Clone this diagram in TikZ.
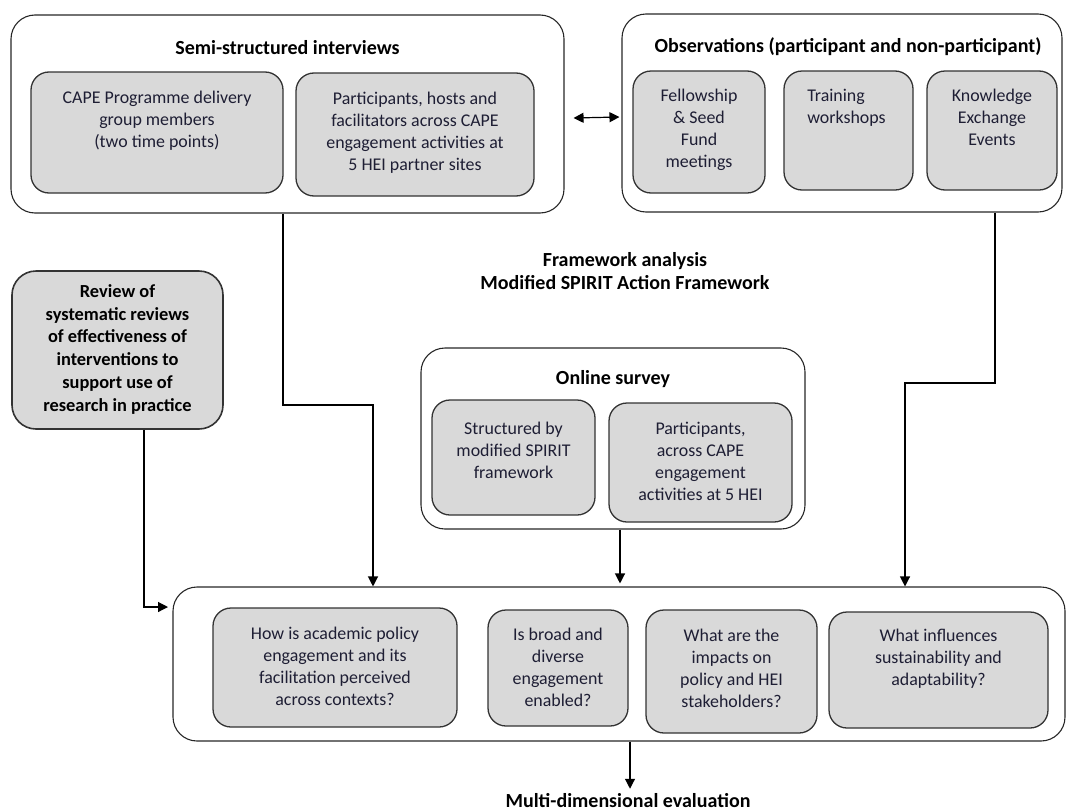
\documentclass[tikz,border=0pt]{standalone}
\usepackage{fontspec}
\setmainfont{Carlito}
\usepackage{tikz}
\usepackage{xcolor}
\usetikzlibrary{arrows.meta, positioning, calc}

\definecolor{boxgray}{RGB}{217,217,217}
\definecolor{inktxt}{RGB}{30,30,52}

\tikzset{
  outbox/.style={draw=black!85, line width=1.1pt, rounded corners=24pt},
  inbox/.style={draw=black!80, fill=boxgray, line width=1.3pt, rounded corners=18pt},
  intext/.style={anchor=north, align=center, inner sep=0pt, text=inktxt,
    font=\fontsize{17.9}{22}\selectfont},
  heading/.style={align=center, inner sep=0pt,
    font=\bfseries\fontsize{20}{23}\selectfont},
  link/.style={line width=1.2pt, -{Triangle[length=10pt,width=10pt]}},
}

\begin{document}
\begin{tikzpicture}[x=1pt, y=-1pt]
\useasboundingbox (0,0) rectangle (1067,811);

% interviews
\node[outbox, minimum width=553pt, minimum height=198pt] (semi) at (287.5,114) {};
\node[heading, yshift=-33pt] at (semi.north) {Semi-structured interviews};
\node[inbox, minimum width=252pt, minimum height=121pt] (cape) at (157,132.5) {};
\node[intext, yshift=-20pt] at (cape.north) {CAPE Programme delivery\\group members\\(two time points)};
\node[inbox, minimum width=238pt, minimum height=123pt] (hosts) at (415,134.5) {};
\node[intext, yshift=-20pt] at (hosts.north) {Participants, hosts and\\facilitators across CAPE\\engagement activities at\\5 HEI partner sites};

% observations
\node[outbox, minimum width=440pt, minimum height=198pt] (obs) at (842,113) {};
\node[heading, yshift=-33pt, xshift=6pt] at (obs.north) {Observations (participant and non-participant)};
\node[inbox, minimum width=132pt, minimum height=122pt] (fellow) at (699,132) {};
\node[intext, yshift=-19pt] at (fellow.north) {Fellowship\\\& Seed\\Fund\\meetings};
\node[inbox, minimum width=129pt, minimum height=119pt] (train) at (848.5,130.5) {};
\node[intext, align=left, yshift=-19pt, xshift=-2pt] at (train.north) {Training\\workshops};
\node[inbox, minimum width=130pt, minimum height=119pt] (know) at (992,130.5) {};
\node[intext, yshift=-19pt] at (know.north) {Knowledge\\Exchange\\Events};

\draw[line width=1.2pt, {Triangle[length=10pt,width=10pt]}-{Triangle[length=10pt,width=10pt]}]
  ([xshift=9pt, yshift=-4pt]semi.east) -- ([xshift=-2pt, yshift=-4pt]obs.west);

% analysis
\node[heading] (frame) at (625,271) {Framework analysis\\Modified SPIRIT Action Framework};

% review
\node[inbox, line width=1.6pt, rounded corners=24pt, minimum width=211pt, minimum height=158pt] (review) at (117.5,350) {};
\node[intext, font=\bfseries\fontsize{18.4}{22.8}\selectfont, text=black, yshift=-14pt] at (review.north) {Review of\\systematic reviews\\of effectiveness of\\interventions to\\support use of\\research in practice};

% survey
\node[outbox, minimum width=384pt, minimum height=181pt] (survey) at (613,438.5) {};
\node[heading, yshift=-32pt] at (survey.north) {Online survey};
\node[inbox, minimum width=163pt, minimum height=115pt] (struct) at (513.5,457.5) {};
\node[intext, yshift=-23pt] at (struct.north) {Structured by\\modified SPIRIT\\framework};
\node[inbox, minimum width=183pt, minimum height=119pt] (spart) at (700.5,462.5) {};
\node[intext, yshift=-20pt] at (spart.north) {Participants,\\across CAPE\\engagement\\activities at 5 HEI};

% evaluation questions
\node[outbox, minimum width=892pt, minimum height=154pt] (eval) at (619,664) {};
\node[inbox, minimum width=244pt, minimum height=119pt] (qa) at (335,667.5) {};
\node[intext, yshift=-20pt] at (qa.north) {How is academic policy\\engagement and its\\facilitation perceived\\across contexts?};
\node[inbox, minimum width=140pt, minimum height=116pt] (qb) at (558,668) {};
\node[intext, yshift=-19pt] at (qb.north) {Is broad and\\diverse\\engagement\\enabled?};
\node[inbox, minimum width=171pt, minimum height=123pt] (qc) at (731.5,671.5) {};
\node[intext, yshift=-20pt] at (qc.north) {What are the\\impacts on\\policy and HEI\\stakeholders?};
\node[inbox, minimum width=219pt, minimum height=116pt] (qd) at (938.5,670) {};
\node[intext, yshift=-18pt] at (qd.north) {What influences\\sustainability and\\adaptability?};

\node[heading, anchor=base] (multi) at (628,807) {Multi-dimensional evaluation};

% connectors
\coordinate (s1) at (283,405);
\coordinate (s2) at (373,405);
\coordinate (o1) at (995,383);
\coordinate (o2) at (905,383);
\coordinate (r1) at (144,607);
\coordinate (r2) at (168,607);
\coordinate (v1) at (620,0);
\coordinate (m1) at (630,0);

\draw[link] (semi.south -| s1) -- (s1) -- (s2) -- (s2 |- eval.north);
\draw[link] (obs.south -| o1) -- (o1) -- (o2) -- (o2 |- eval.north);
\draw[link] (survey.south -| v1) -- ([yshift=3pt]eval.north -| v1);
\draw[link] (review.south -| r1) -- (r1) -- (r2);
\draw[link] (eval.south -| m1) -- ([yshift=4pt]multi.north -| m1);
\end{tikzpicture}
\end{document}
